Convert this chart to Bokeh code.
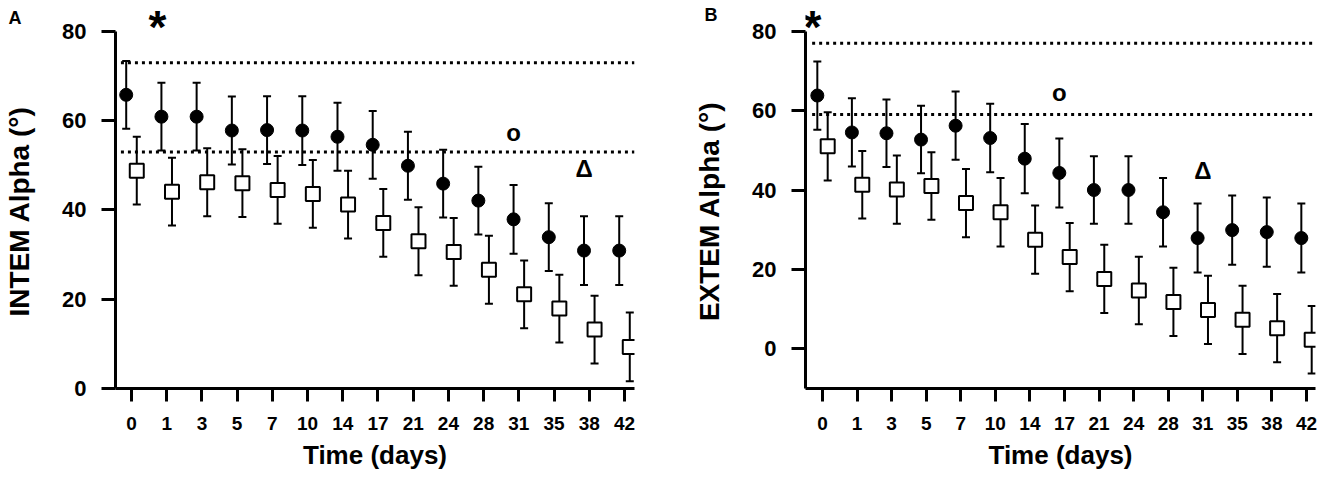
from bokeh.plotting import figure
from bokeh.models import (Range1d, FixedTicker, Whisker, ColumnDataSource,
                          LabelSet, TeeHead, LinearAxis)
from bokeh.layouts import row
from bokeh.transform import dodge
from bokeh.core.properties import value
from bokeh.embed import file_html
from bokeh.resources import INLINE

# ---------------- data ----------------
days = ["0", "1", "3", "5", "7", "10", "14", "17", "21", "24", "28", "31", "35", "38", "42"]

intem_circle = [65.8, 60.9, 60.9, 57.8, 57.9, 57.8, 56.4, 54.6, 49.9, 45.9, 42.1, 37.9, 33.9, 30.9, 30.9]
intem_circle_sd = [7.6, 7.6, 7.6, 7.6, 7.6, 7.7, 7.6, 7.6, 7.6, 7.6, 7.6, 7.7, 7.6, 7.7, 7.7]
intem_square = [48.8, 44.1, 46.2, 46.0, 44.5, 43.6, 41.2, 37.1, 33.0, 30.6, 26.6, 21.1, 17.9, 13.2, 9.3]
intem_square_sd = [7.6, 7.6, 7.6, 7.6, 7.6, 7.6, 7.6, 7.6, 7.6, 7.6, 7.6, 7.6, 7.6, 7.6, 7.7]
intem_ref = [73, 53]

extem_circle = [63.8, 54.5, 54.3, 52.7, 56.2, 53.1, 47.9, 44.3, 40.0, 40.0, 34.4, 27.9, 29.9, 29.4, 27.9]
extem_circle_sd = [8.6, 8.6, 8.5, 8.5, 8.6, 8.6, 8.7, 8.7, 8.5, 8.5, 8.6, 8.7, 8.7, 8.7, 8.7]
extem_square = [51.0, 41.3, 40.1, 41.0, 36.7, 34.4, 27.5, 23.1, 17.6, 14.7, 11.8, 9.8, 7.3, 5.2, 2.3]
extem_square_sd = [8.6, 8.5, 8.6, 8.5, 8.6, 8.6, 8.6, 8.6, 8.6, 8.5, 8.6, 8.6, 8.6, 8.6, 8.5]
extem_ref = [77, 59]

y_ticks = [0, 20, 40, 60, 80]

# significance symbols: text, day, value
intem_marks = ["*", "o", "\u0394"]
intem_marks_day = ["1", "31", "38"]
intem_marks_val = [86.8, 57.4, 49.2]
intem_marks_dx = [-0.26, -0.15, -0.15]

extem_marks = ["*", "o", "\u0394"]
extem_marks_day = ["0", "17", "31"]
extem_marks_val = [87.6, 64.5, 44.9]
extem_marks_dx = [-0.29, -0.15, 0.0]

FONT = "Liberation Sans"
LABEL_PAD = "\u2003\u2009"  # keeps the rotated y title centred on the 0-80 axis


def panel(letter, letter_y, letter_shift, ylabel, circ, circ_sd, sq, sq_sd, refs,
          marks, marks_day, marks_val, marks_dx, width, xr, yr, ybounds,
          border_left, border_right, border_bottom):
    p = figure(width=width, height=487, x_range=Range1d(*xr), y_range=Range1d(*yr),
               output_backend="svg", toolbar_location=None,
               min_border_left=border_left, min_border_right=border_right,
               min_border_top=0, min_border_bottom=border_bottom)
    p.grid.visible = False
    p.outline_line_color = None
    p.background_fill_color = "white"

    xs = list(range(len(days)))
    src = ColumnDataSource(dict(
        x=xs,
        circ=circ, circ_up=[m + s for m, s in zip(circ, circ_sd)],
        circ_lo=[m - s for m, s in zip(circ, circ_sd)],
        sq=sq, sq_up=[m + s for m, s in zip(sq, sq_sd)],
        sq_lo=[m - s for m, s in zip(sq, sq_sd)],
    ))
    xc = dodge("x", -0.15, range=p.x_range)
    xq = dodge("x", 0.15, range=p.x_range)

    # reference (normal range) lines
    p.segment(x0=[-0.3] * len(refs), x1=[xr[1]] * len(refs), y0=refs, y1=refs,
              line_color="black", line_width=3, line_dash="3 4")

    for base, up, lo in ((xc, "circ_up", "circ_lo"), (xq, "sq_up", "sq_lo")):
        w = Whisker(base=base, upper=up, lower=lo, source=src, dimension="height",
                    line_width=2, line_color="black", level="underlay",
                    upper_head=TeeHead(size=8, line_width=2, line_color="black"),
                    lower_head=TeeHead(size=8, line_width=2, line_color="black"))
        p.add_layout(w)

    p.scatter(x=xc, y="circ", source=src, marker="circle", size=13,
              fill_color="black", line_color="black", line_width=1)
    p.scatter(x=xq, y="sq", source=src, marker="square", size=14,
              fill_color="white", line_color="black", line_width=2)

    # significance symbols
    star = [t == "*" for t in marks]
    msrc = ColumnDataSource(dict(
        x=[days.index(d) + dx for d, dx in zip(marks_day, marks_dx)],
        y=marks_val, text=marks,
        size=["46px" if s else "24px" for s in star],
        base=["top" if s else "middle" for s in star]))
    p.add_layout(LabelSet(x="x", y="y", text="text", source=msrc,
                          text_font=value(FONT), text_font_style="bold",
                          text_font_size="size", text_align="center",
                          text_baseline="base", text_color="black"))

    # axes
    p.xaxis.ticker = FixedTicker(ticks=xs)
    p.xaxis.major_label_overrides = {i: d for i, d in enumerate(days)}
    p.yaxis.ticker = FixedTicker(ticks=y_ticks)
    p.yaxis.bounds = ybounds
    for ax in (p.xaxis, p.yaxis):
        ax.axis_line_width = 3
        ax.axis_line_color = "black"
        ax.major_tick_line_width = 3
        ax.major_tick_line_color = "black"
        ax.major_tick_in = 0
        ax.minor_tick_line_color = None
        ax.major_label_text_font = FONT
        ax.major_label_text_font_style = "bold"
        ax.major_label_text_color = "black"
        ax.axis_label_text_font = FONT
        ax.axis_label_text_font_style = "bold"
        ax.axis_label_text_color = "black"
    p.xaxis.major_tick_out = 13
    p.yaxis.major_tick_out = 14
    p.xaxis.major_label_text_font_size = "19px"
    p.yaxis.major_label_text_font_size = "22px"
    p.xaxis.major_label_standoff = 15
    p.yaxis.major_label_standoff = 15
    p.xaxis.axis_label = "Time (days)"
    p.yaxis.axis_label = ylabel + LABEL_PAD
    p.xaxis.axis_label_text_font_size = "26px"
    p.yaxis.axis_label_text_font_size = "28px"
    p.xaxis.axis_label_standoff = 7
    p.yaxis.axis_label_standoff = 24

    # panel letter, carried by an outer, line-less axis
    lax = LinearAxis(ticker=FixedTicker(ticks=[letter_y]),
                     major_label_overrides={letter_y: letter},
                     axis_line_color=None, major_tick_line_color=None,
                     minor_tick_line_color=None, major_tick_out=0, major_tick_in=0,
                     major_label_text_font=FONT, major_label_text_font_style="bold",
                     major_label_text_font_size="18px", major_label_text_color="black",
                     major_label_standoff=letter_shift)
    p.add_layout(lax, "left")
    return p


pa = panel("A", 83, -20, "INTEM Alpha (\u00b0)", intem_circle, intem_circle_sd,
           intem_square, intem_square_sd, intem_ref, intem_marks, intem_marks_day,
           intem_marks_val, intem_marks_dx, width=668, xr=(-0.454, 14.284),
           yr=(0, 86.93), ybounds=(0, 80), border_left=115, border_right=34,
           border_bottom=98)
pb = panel("B", 84, -26, "EXTEM Alpha (\u00b0)", extem_circle, extem_circle_sd,
           extem_square, extem_square_sd, extem_ref, extem_marks, extem_marks_day,
           extem_marks_val, extem_marks_dx, width=656, xr=(-0.492, 14.26),
           yr=(-10, 87.74), ybounds=(-10, 80), border_left=137, border_right=9,
           border_bottom=99)

layout = row(pa, pb)
open("out.html", "w").write(file_html(layout, INLINE))
